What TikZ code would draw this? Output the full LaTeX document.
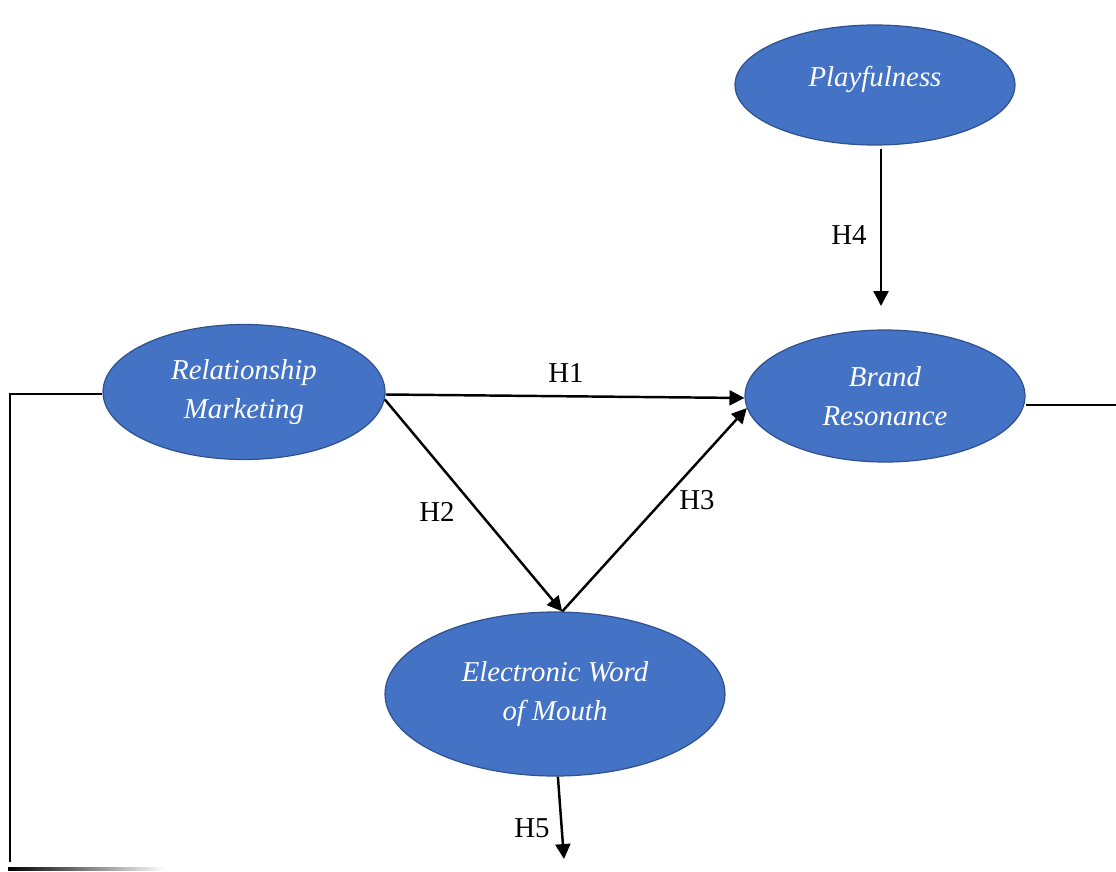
\documentclass[tikz,border=0pt]{standalone}
\usepackage{fontspec}
\setmainfont{Liberation Serif}
\usetikzlibrary{shapes.geometric,arrows.meta}
\definecolor{oval}{HTML}{4472C4}
\definecolor{ovalline}{HTML}{2F528F}
\tikzset{
  construct/.style={ellipse, fill=oval, draw=ovalline, line width=0.7pt, text=white,
    align=center, font=\fontsize{16.4}{21.8}\selectfont\itshape, inner sep=0pt},
  link/.style={line width=1.4pt, -{Triangle[length=8.5pt,width=8.5pt]}},
  plainline/.style={line width=1.4pt},
  hlabel/.style={font=\fontsize{16.4}{19}\selectfont, inner sep=0pt}
}
\begin{document}
\begin{tikzpicture}[x=0.02cm,y=-0.02cm]
\useasboundingbox (0,0) rectangle (1116,872);
\node[construct, minimum width=5.6cm, minimum height=2.4cm] (pf) at (875,85) {\raisebox{0.36cm}{Playfulness}};
\node[construct, minimum width=5.64cm, minimum height=2.7cm] (rm) at (244,392) {Relationship\\Marketing};
\node[construct, minimum width=5.6cm, minimum height=2.64cm] (br) at (885,396) {Brand\\Resonance};
\node[construct, minimum width=6.8cm, minimum height=3.28cm] (ew) at (555,694) {Electronic Word\\of Mouth};
\coordinate (h4end) at (881,306);
\coordinate (h5end) at (564,859);
\coordinate (lend) at (10,862);
\coordinate (rend) at (1116,405);
\draw[link] (h4end |- pf.south) ++(0,3) -- (h4end);
\draw[link] ([yshift=-0.05cm]rm.east) -- ([yshift=-0.04cm]br.west);
\draw[link] (rm.-3) -- (ew.85);
\draw[link] (ew.85) -- (br.185);
\draw[link] (ew.-88) -- (h5end);
\draw[plainline] ([yshift=-0.04cm]rm.west) -| (lend);
\draw[plainline] (rend -| br.east) -- (rend);
\shade[left color=black, right color=white] (8,867.5) rectangle (165,870.5);
\node[hlabel] (l1) at (566,373) {H1};
\node[hlabel] (l2) at (437,512) {H2};
\node[hlabel] (l3) at (697,500) {H3};
\node[hlabel] (l4) at (849,235) {H4};
\node[hlabel] (l5) at (532,828) {H5};
\end{tikzpicture}
\end{document}
